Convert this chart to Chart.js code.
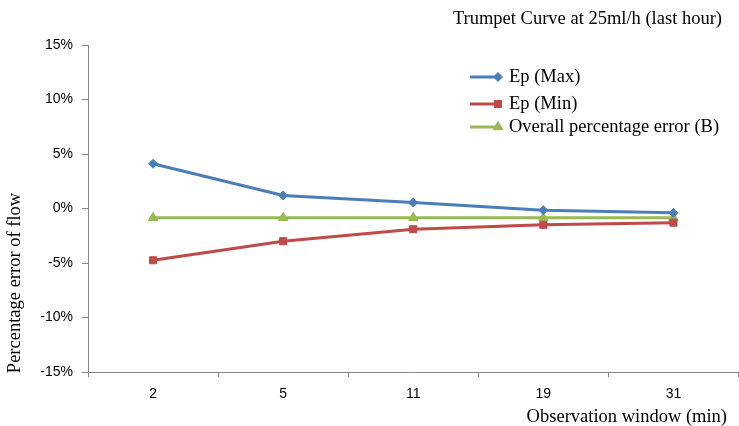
<!DOCTYPE html>
<html>
<head>
<meta charset="utf-8">
<script src="https://cdn.jsdelivr.net/npm/chart.js@4.4.1/dist/chart.umd.min.js"></script>
<style>
  html, body { margin: 0; padding: 0; background: #fff; overflow: hidden; }
  /* a little wider than the window: Chart.js keeps a small gap on the right */
  #wrap { width: 745px; height: 426px; }
</style>
</head>
<body>
<div id="wrap"><canvas id="trumpetChart"></canvas></div>
<script>
const categories = ['2', '5', '11', '19', '31'];
const epMax = [4.1, 1.2, 0.55, -0.15, -0.4];
const epMin = [-4.75, -3.0, -1.9, -1.5, -1.3];
const overall = [-0.85, -0.85, -0.85, -0.85, -0.85];
const yTicks = [-15, -10, -5, 0, 5, 10, 15];

const axisGray = '#868686';
const serif = '"Liberation Serif", "DejaVu Serif", serif';

// title, axis titles and legend are drawn by hand so they sit where the original has them
const extraText = {
    id: 'extraText',
    afterDraw(chart) {
        const c = chart.ctx;
        const rows = [77, 104, 127];
        c.save();
        c.font = '18.5px ' + serif;
        c.textBaseline = 'middle';
        c.fillStyle = '#000';
        c.textAlign = 'right';
        c.fillText('Trumpet Curve at 25ml/h (last hour)', 722, 19);
        c.fillText('Observation window (min)', 727, 417);

        c.save();
        c.translate(15, 283);
        c.rotate(-Math.PI / 2);
        c.textAlign = 'center';
        c.fillText('Percentage error of flow', 0, 0);
        c.restore();

        chart.data.datasets.forEach((ds, i) => {
            const y = rows[i];
            c.strokeStyle = ds.borderColor;
            c.fillStyle = ds.backgroundColor;
            c.lineWidth = 3;
            c.beginPath();
            c.moveTo(470, y);
            c.lineTo(498, y);
            c.stroke();
            c.lineWidth = 1;
            Chart.helpers.drawPoint(c, {
                pointStyle: ds.pointStyle,
                radius: ds.pointRadius,
                rotation: 0,
                borderWidth: 1
            }, 498, y);
            c.fillStyle = '#000';
            c.textAlign = 'left';
            c.fillText(ds.label, 509, y);
        });
        c.restore();
    }
};

const ctx = document.getElementById('trumpetChart').getContext('2d');

const trumpetChart = new Chart(ctx, {
    type: 'line',
    data: {
        labels: categories,
        datasets: [{
            label: 'Ep (Max)',
            data: epMax,
            borderColor: '#4A7EBB',
            backgroundColor: '#4A7EBB',
            borderWidth: 3,
            pointStyle: 'rectRot',
            pointRadius: 4.5,
            pointBorderWidth: 1
        }, {
            label: 'Ep (Min)',
            data: epMin,
            borderColor: '#BE4B48',
            backgroundColor: '#BE4B48',
            borderWidth: 3,
            pointStyle: 'rect',
            pointRadius: 5,
            pointBorderWidth: 1
        }, {
            label: 'Overall percentage error (B)',
            data: overall,
            borderColor: '#98B954',
            backgroundColor: '#98B954',
            borderWidth: 3,
            pointStyle: 'triangle',
            pointRadius: 5.5,
            pointBorderWidth: 1
        }]
    },
    options: {
        responsive: true,
        maintainAspectRatio: false,
        animation: false,
        layout: { padding: { top: 45, right: 0, left: 0, bottom: 0 } },
        plugins: {
            legend: { display: false },
            tooltip: { enabled: false }
        },
        scales: {
            x: {
                offset: true,
                grid: {
                    offset: true,
                    drawOnChartArea: false,
                    drawTicks: true,
                    tickLength: 5,
                    color: axisGray
                },
                border: { display: true, color: axisGray, width: 1 },
                ticks: {
                    color: '#000',
                    padding: 9,
                    font: { family: 'Liberation Sans', size: 14 },
                    maxRotation: 0
                },
                afterFit(scale) { scale.height = 54; }
            },
            y: {
                min: -15,
                max: 15,
                afterBuildTicks(scale) {
                    scale.ticks = yTicks.map(v => ({ value: v }));
                },
                grid: {
                    drawOnChartArea: false,
                    drawTicks: true,
                    tickLength: 6,
                    color: axisGray
                },
                border: { display: true, color: axisGray, width: 1 },
                ticks: {
                    color: '#000',
                    padding: 9,
                    font: { family: 'Liberation Sans', size: 14 },
                    callback: v => v + '%'
                },
                afterFit(scale) { scale.width = 88; }
            }
        }
    },
    plugins: [extraText]
});
</script>
</body>
</html>
